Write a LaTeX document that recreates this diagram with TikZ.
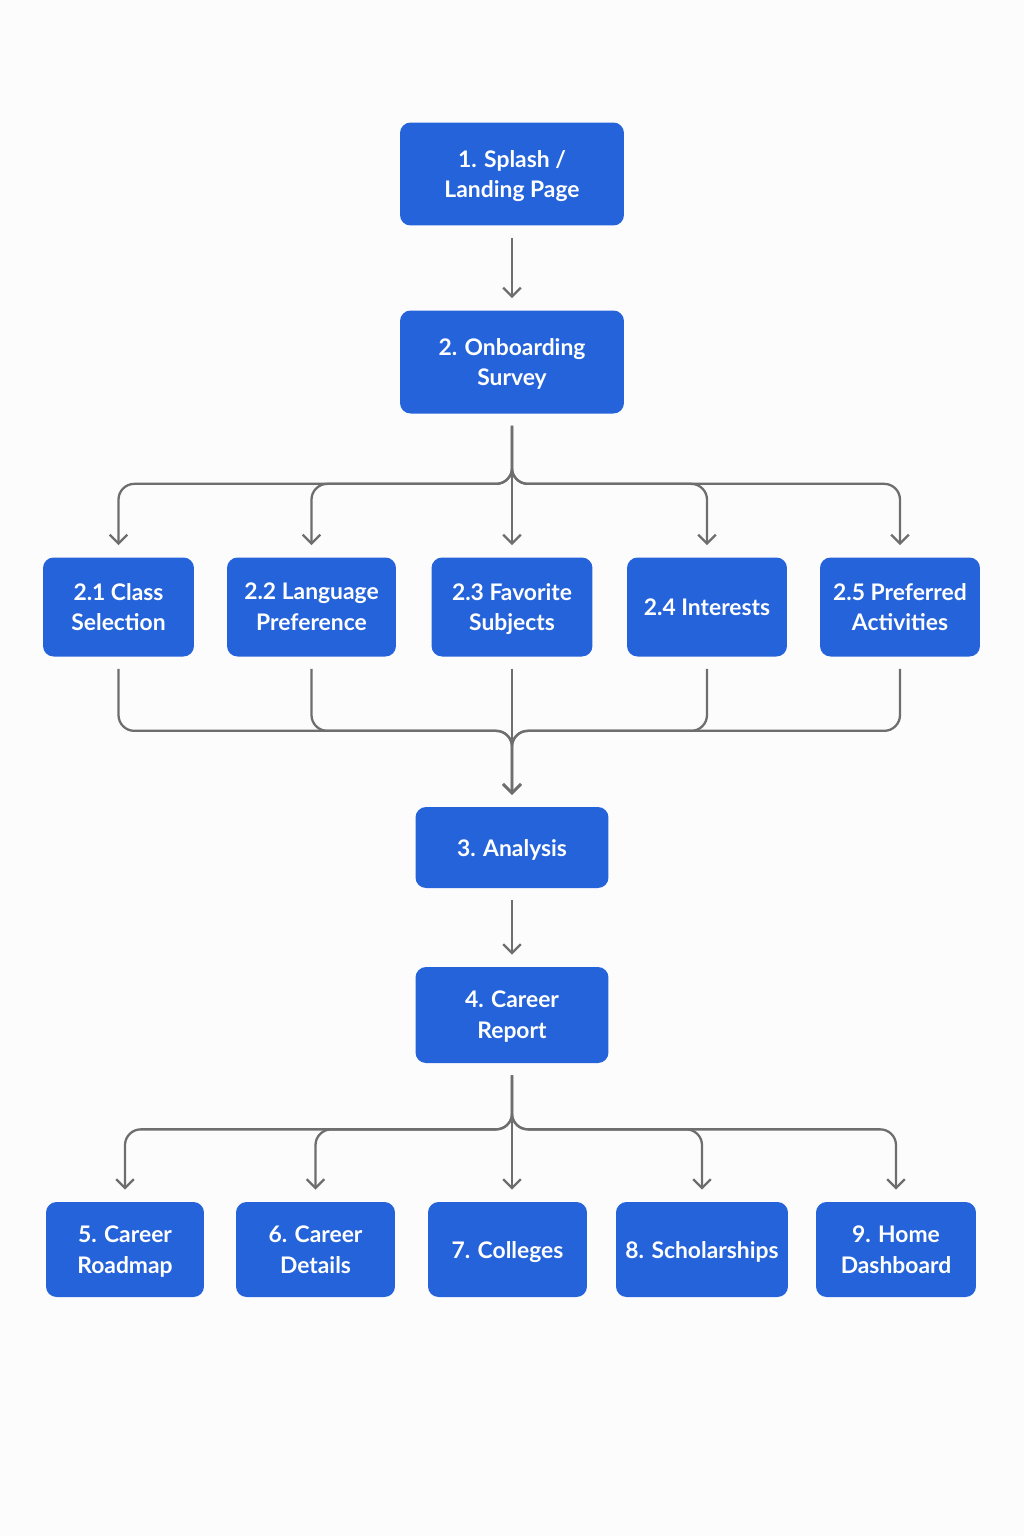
\documentclass[tikz,border=0pt]{standalone}
\usepackage{fontspec}
\setmainfont{Lato}
\usetikzlibrary{arrows.meta}
\definecolor{boxblue}{RGB}{37,99,218}
\definecolor{linegray}{RGB}{110,110,110}
\tikzset{
  box/.style={fill=boxblue, rounded corners=6pt, text=white, align=center,
    font=\fontsize{13}{17.5}\selectfont\bfseries, inner sep=0pt, text depth=0pt},
  link/.style={draw=linegray, line width=1.3pt, rounded corners=9pt,
    shorten <=12*0.02cm, shorten >=12*0.02cm},
  arr/.style={link, -{Straight Barb[length=5pt, width=10pt, line width=1.3pt]}}
}
\begin{document}
\begin{tikzpicture}[x=0.02cm, y=-0.02cm]
  \fill[white!98!gray] (0,0) rectangle (1024,1536);
  \useasboundingbox (0,0) rectangle (1024,1536);
  % main column
  \node[box, minimum width=4.48cm, minimum height=2.06cm] (s1) at (512,174) {1. Splash /\\Landing Page};
  \node[box, minimum width=4.48cm, minimum height=2.06cm] (s2) at (512,362) {2. Onboarding\\Survey};
  \node[box, minimum width=3.86cm, minimum height=1.62cm] (s3) at (512,847.5) {3. Analysis};
  \node[box, minimum width=3.86cm, minimum height=1.92cm] (s4) at (512,1015) {4. Career\\Report};
  % survey steps
  \node[box, minimum width=3.02cm, minimum height=1.98cm] (s21) at (118.5,607) {2.1 Class\\Selection};
  \node[box, minimum width=3.38cm, minimum height=1.98cm] (s22) at (311.5,607) {2.2 Language\\Preference};
  \node[box, minimum width=3.22cm, minimum height=1.98cm] (s23) at (512,607) {2.3 Favorite\\Subjects};
  \node[box, minimum width=3.20cm, minimum height=1.98cm] (s24) at (707,607) {2.4 Interests};
  \node[box, minimum width=3.20cm, minimum height=1.98cm] (s25) at (900,607) {2.5 Preferred\\Activities};
  % results
  \node[box, minimum width=3.16cm, minimum height=1.90cm] (s5) at (125,1249.5) {5. Career\\Roadmap};
  \node[box, minimum width=3.18cm, minimum height=1.90cm] (s6) at (315.5,1249.5) {6. Career\\Details};
  \node[box, minimum width=3.18cm, minimum height=1.90cm] (s7) at (507.5,1249.5) {7. Colleges};
  \node[box, minimum width=3.44cm, minimum height=1.90cm] (s8) at (702,1249.5) {8. Scholarships};
  \node[box, minimum width=3.20cm, minimum height=1.90cm] (s9) at (896,1249.5) {9. Home\\Dashboard};

  \draw[arr] (s1) -- (s2);
  \draw[arr] (s3) -- (s4);
  \foreach \n in {s21,s22,s23,s24,s25}
    \draw[arr] (s2.south) -- ++(0,70) -| (\n.north);
  \foreach \n in {s21,s22,s23,s24,s25}
    \draw[arr] (\n.south) -- ++(0,74) -| (s3.north);
  \foreach \n in {s5,s6,s8,s9}
    \draw[arr] (s4.south) -- ++(0,66) -| (\n.north);
  \draw[arr] (s4.south) -- (s4.south |- s7.north);
\end{tikzpicture}
\end{document}
